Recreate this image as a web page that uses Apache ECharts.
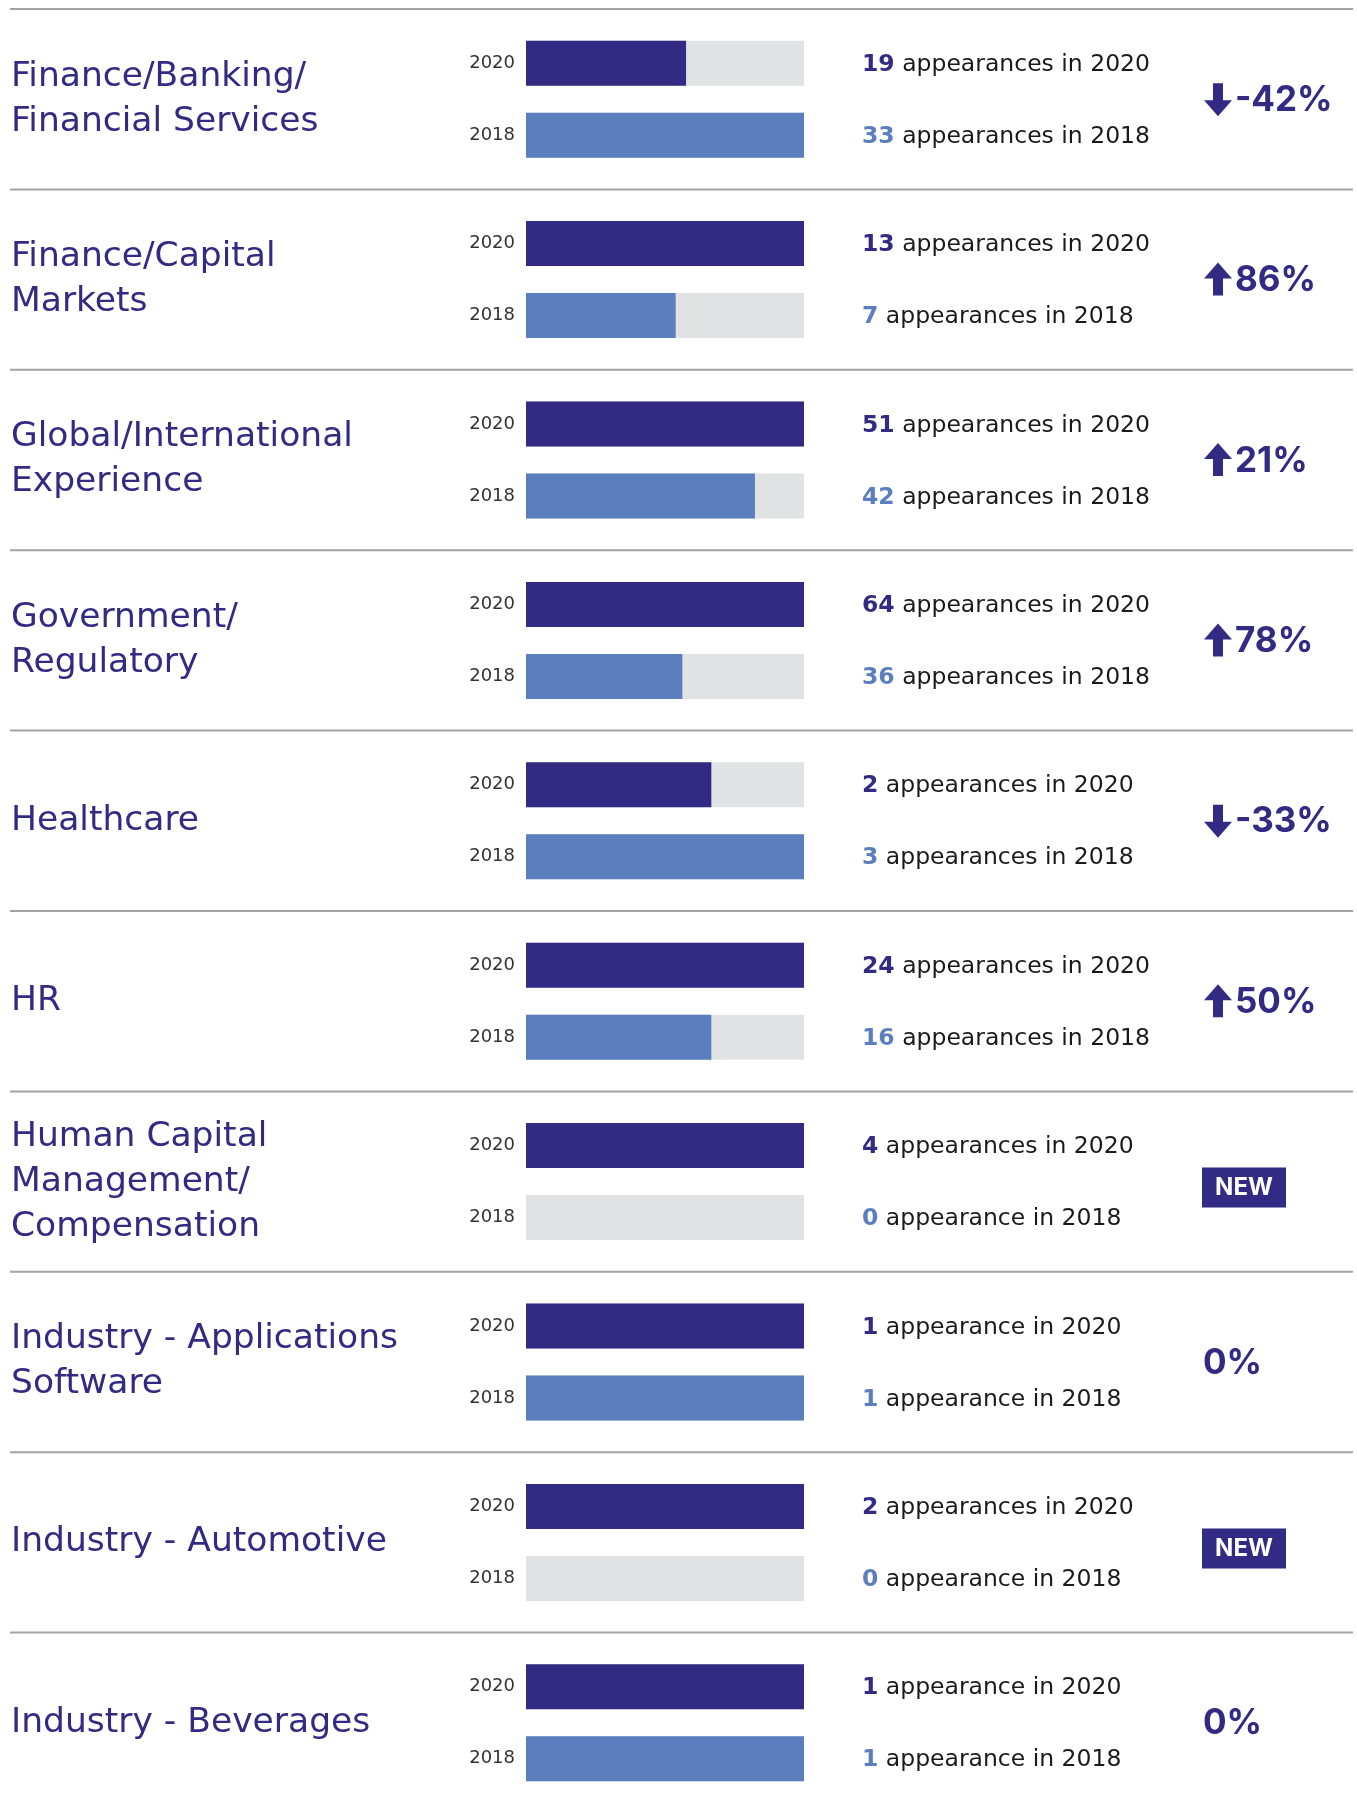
<!DOCTYPE html>
<html>
<head>
<meta charset="utf-8">
<script src="https://cdn.jsdelivr.net/npm/echarts@6/dist/echarts.min.js"></script>
<style>
  html, body { margin: 0; padding: 0; background: #fff; }
  #chart { width: 1357px; height: 1805px; }
</style>
</head>
<body>
<div id="chart"></div>
<script>
// 各类别
var categories = [
    'Finance/Banking/\nFinancial Services',
    'Finance/Capital\nMarkets',
    'Global/International\nExperience',
    'Government/\nRegulatory',
    'Healthcare',
    'HR',
    'Human Capital\nManagement/\nCompensation',
    'Industry - Applications\nSoftware',
    'Industry - Automotive',
    'Industry - Beverages'
];
var years = ['2020', '2018'];
var values2020 = [19, 13, 51, 64, 2, 24, 4, 1, 2, 1];
var values2018 = [33, 7, 42, 36, 3, 16, 0, 1, 0, 1];
var changeLabels = ['-42%', '86%', '21%', '78%', '-33%', '50%', 'NEW', '0%', 'NEW', '0%'];
var changeDirs = ['down', 'up', 'up', 'up', 'down', 'up', 'new', 'flat', 'new', 'flat'];

var NAVY = '#332a83';
var LIGHT = '#5b7ebf';
var GRAY = '#e1e2e4';
var FONT = 'Inter, "Open Sans", sans-serif';
var WIDE = '"DejaVu Sans", sans-serif';

var rowTop = 9, rowH = 180.4;
function rowCenter(i) { return rowTop + rowH * i + rowH / 2; }

var grids = [], xAxes = [], yAxes = [], series = [], graphics = [];

categories.forEach(function (name, i) {
    var c = rowCenter(i);
    grids.push({ left: 526, width: 278, top: c - 72, height: 144 });
    xAxes.push({
        gridIndex: i, type: 'value', min: 0,
        max: Math.max(values2020[i], values2018[i], 1),
        show: false
    });
    yAxes.push({
        gridIndex: i, type: 'category', data: years, inverse: true,
        axisLine: { show: false }, axisTick: { show: false },
        axisLabel: { color: '#333', fontSize: 18, fontFamily: WIDE, margin: 11 }
    });
    yAxes.push({
        gridIndex: i, type: 'category', data: years, inverse: true, position: 'right',
        axisLine: { show: false }, axisTick: { show: false },
        axisLabel: {
            margin: 58, align: 'left', padding: [3, 0, 0, 0],
            formatter: function (val, idx) {
                var v = idx === 0 ? values2020[i] : values2018[i];
                var word = v <= 1 ? 'appearance' : 'appearances';
                return '{' + (idx === 0 ? 'a' : 'b') + '|' + v + '}{t| ' + word + ' in ' + val + '}';
            },
            rich: {
                a: { color: NAVY, fontWeight: 'bold', fontSize: 23.5, fontFamily: WIDE },
                b: { color: LIGHT, fontWeight: 'bold', fontSize: 23.5, fontFamily: WIDE },
                t: { color: '#1a1a1a', fontSize: 23.5, fontFamily: WIDE }
            }
        }
    });
    series.push({
        type: 'bar', xAxisIndex: i, yAxisIndex: i * 2,
        barWidth: 45, silent: true,
        showBackground: true, backgroundStyle: { color: GRAY },
        data: [
            { value: values2020[i], itemStyle: { color: NAVY } },
            { value: values2018[i], itemStyle: { color: LIGHT } }
        ]
    });

    // 分隔线
    graphics.push({
        type: 'line', shape: { x1: 10, y1: rowTop + rowH * i, x2: 1353, y2: rowTop + rowH * i },
        style: { stroke: '#a3a3a3', lineWidth: 2 }
    });
    // 类别名
    graphics.push({
        type: 'text', x: 11, y: c,
        style: {
            text: name, fill: NAVY, fontSize: 34.5, fontFamily: WIDE,
            lineHeight: 45, verticalAlign: 'middle'
        }
    });

    // 变化
    var dir = changeDirs[i];
    if (dir === 'new') {
        graphics.push({
            type: 'rect', shape: { x: 1202, y: c - 14, width: 84, height: 40 },
            style: { fill: NAVY }
        });
        graphics.push({
            type: 'text', x: 1244, y: c + 6,
            style: { text: changeLabels[i], fill: '#fff', fontSize: 24, fontWeight: 'bold',
                fontFamily: FONT, align: 'center', verticalAlign: 'middle' }
        });
    } else {
        var tx = 1203;
        if (dir === 'up' || dir === 'down') {
            var ax = 1218, s = dir === 'up' ? -1 : 1;
            // 箭头: 头部 + 杆
            graphics.push({
                type: 'polygon',
                shape: {
                    points: [
                        [ax - 5, c - 16 * s], [ax + 5, c - 16 * s],
                        [ax + 5, c + 1 * s], [ax + 14, c + 1 * s],
                        [ax, c + 17 * s], [ax - 14, c + 1 * s],
                        [ax - 5, c + 1 * s]
                    ]
                },
                style: { fill: NAVY }
            });
            tx = 1235;
        }
        graphics.push({
            type: 'text', x: tx, y: c + 1,
            style: { text: changeLabels[i], fill: NAVY, fontSize: 35, fontWeight: 'bold',
                fontFamily: FONT, verticalAlign: 'middle' }
        });
    }
});

var chart = echarts.init(document.getElementById('chart'));
chart.setOption({
    animation: false,
    grid: grids,
    xAxis: xAxes,
    yAxis: yAxes,
    series: series,
    graphic: graphics
});
</script>
</body>
</html>
